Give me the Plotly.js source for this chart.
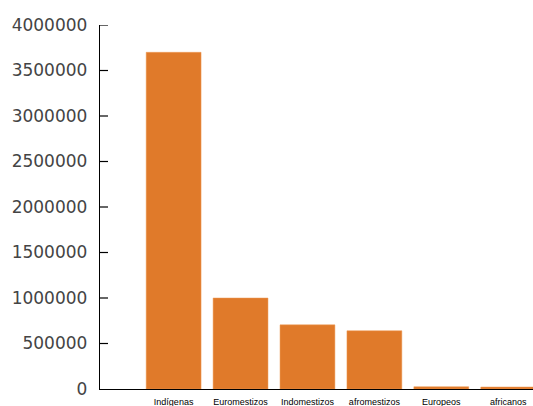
<!DOCTYPE html>
<html>
<head>
<meta charset="utf-8">
<script src="https://cdn.plot.ly/plotly-3.0.1.min.js"></script>
<style>html,body{margin:0;padding:0;background:#fff;}#chart{width:533px;height:406px;}</style>
</head>
<body>
<div id="chart"></div>
<script>
const categories = ["Indígenas", "Euromestizos", "Indomestizos", "afromestizos", "Europeos", "africanos"];
const values = [3700000, 1000000, 705000, 640000, 25000, 22000];
const yTickValues = [0, 500000, 1000000, 1500000, 2000000, 2500000, 3000000, 3500000, 4000000];
const yTickLabels = ["0", "500000", "1000000", "1500000", "2000000", "2500000", "3000000", "3500000", "4000000"];

const trace = {
  type: 'bar',
  x: categories,
  y: values,
  marker: {color: '#E07A2A', line: {color: '#EE9A55', width: 0.5}},
  hoverinfo: 'none'
};

// inside tick marks on the y axis, placed at the tick values
const tickShapes = yTickValues.slice(1).map(v => ({
  type: 'line', xref: 'paper', yref: 'y',
  x0: 0, x1: 8 / 433, y0: v, y1: v,
  line: {color: '#000', width: 1.2}
}));

const layout = {
  width: 533, height: 406,
  margin: {l: 100, r: 0, t: 25, b: 17, pad: 0},
  paper_bgcolor: '#fff', plot_bgcolor: '#fff',
  showlegend: false,
  bargap: 0.18,
  shapes: tickShapes,
  xaxis: {
    type: 'category',
    range: [-1.1, 5.37],
    showgrid: false, zeroline: false,
    showline: true, linecolor: '#000', linewidth: 1.2,
    ticks: '', ticklabelstandoff: 4,
    tickfont: {family: '"Liberation Sans Narrow", "Liberation Sans", Arial, sans-serif', size: 9, color: '#000'}
  },
  yaxis: {
    range: [0, 4000000],
    tickmode: 'array',
    tickvals: yTickValues, ticktext: yTickLabels,
    showgrid: false, zeroline: false,
    showline: true, linecolor: '#000', linewidth: 1.2,
    ticks: '',
    ticklabelstandoff: 8,
    tickfont: {family: '"DejaVu Sans", Verdana, sans-serif', size: 17, color: '#444'}
  }
};

Plotly.newPlot('chart', [trace], layout, {staticPlot: true, displayModeBar: false});
</script>
</body>
</html>
